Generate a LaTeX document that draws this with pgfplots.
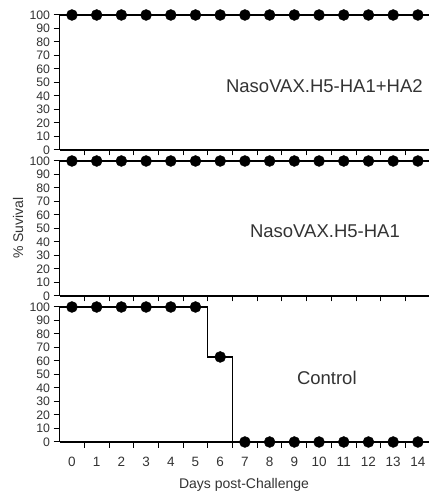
\documentclass[border=0pt]{standalone}
\usepackage{fontspec}
\setmainfont{Liberation Sans}
\usepackage{pgfplots}
\pgfplotsset{compat=1.18}
\definecolor{txt}{HTML}{333333}
\pgfplotsset{
  panel/.style={
    scale only axis, width=369.4pt, height=135pt,
    xmin=-0.5, xmax=14.45, ymin=0, ymax=100,
    axis x line*=bottom, axis y line*=left,
    xtick={0,...,14}, minor x tick num=1,
    ytick={0,10,...,100},
    tick align=outside,
    major tick length=6pt, minor tick length=5.5pt,
    every major x tick/.append style={draw=none},
    clip=false,
    axis line style={line width=1.1pt, black},
    every tick/.append style={line width=1pt, black},
    tick label style={font=\fontsize{12.3}{12.3}\selectfont, text=txt},
    yticklabel style={inner ysep=0pt},
    xticklabel style={yshift=-6pt, font=\fontsize{13.5}{13.5}\selectfont},
    /pgf/number format/assume math mode=true,
    anchor=south west,
  },
  dataline/.style={black, line width=1.2pt, no marks},
  datamarks/.style={only marks, mark=*, mark size=5.5pt, black},
}
\begin{document}
\begin{tikzpicture}
\path[use as bounding box] (0,0) rectangle (429pt,496pt);
% Panel 1
\begin{axis}[panel, at={(59.6pt,346pt)}, xticklabels={}]
\addplot[dataline] coordinates {(-0.5,100) (14.45,100)};
\addplot[datamarks] coordinates {(0,100)(1,100)(2,100)(3,100)(4,100)(5,100)(6,100)(7,100)(8,100)(9,100)(10,100)(11,100)(12,100)(13,100)(14,100)};
\node[anchor=west, inner sep=0pt, font=\fontsize{18.5}{18.5}\selectfont, text=txt] at (axis cs:6.23,47.4) {NasoVAX.H5-HA1+HA2};
\end{axis}
% Panel 2
\begin{axis}[panel, at={(59.6pt,200pt)}, xticklabels={}]
\addplot[dataline] coordinates {(-0.5,100) (14.45,100)};
\addplot[datamarks] coordinates {(0,100)(1,100)(2,100)(3,100)(4,100)(5,100)(6,100)(7,100)(8,100)(9,100)(10,100)(11,100)(12,100)(13,100)(14,100)};
\node[anchor=west, inner sep=0pt, font=\fontsize{18.5}{18.5}\selectfont, text=txt] at (axis cs:7.2,48.1) {NasoVAX.H5-HA1};
\end{axis}
% Panel 3
\begin{axis}[panel, at={(59.6pt,54pt)}]
\addplot[dataline, const plot mark mid] coordinates {(-0.5,100)(0,100)(1,100)(2,100)(3,100)(4,100)(5,100)(6,63)(7,0)(8,0)(9,0)(10,0)(11,0)(12,0)(13,0)(14,0)(14.45,0)};
\addplot[datamarks] coordinates {(0,100)(1,100)(2,100)(3,100)(4,100)(5,100)(6,63)(7,0)(8,0)(9,0)(10,0)(11,0)(12,0)(13,0)(14,0)};
\node[anchor=west, inner sep=0pt, font=\fontsize{18.5}{18.5}\selectfont, text=txt] at (axis cs:9.1,47.4) {Control};
\end{axis}
\node[rotate=90, font=\fontsize{14}{14}\selectfont, text=txt] at (18pt,268pt) {\% Suvival};
\node[font=\fontsize{14}{14}\selectfont, text=txt] at (244pt,11pt) {Days post-Challenge};
\end{tikzpicture}
\end{document}
